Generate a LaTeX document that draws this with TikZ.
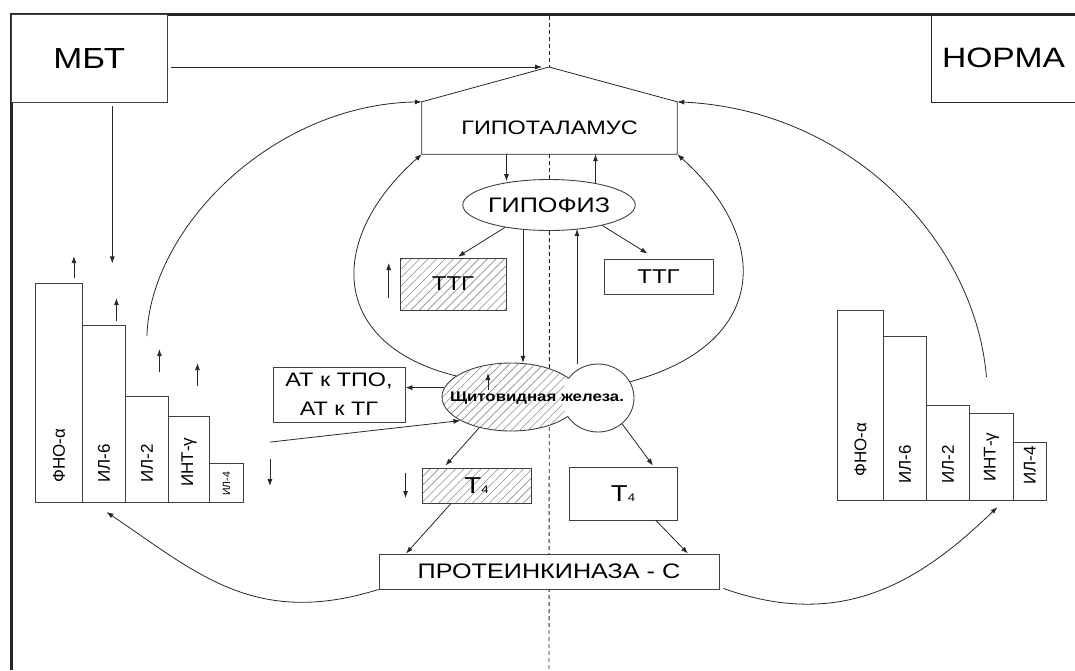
\documentclass[tikz,border=0pt]{standalone}
\usepackage{fontspec}
\setmainfont{Liberation Sans}
\newfontfamily\widesans{Liberation Sans}[FakeStretch=1.2]
\usepackage{tikz}
\usetikzlibrary{calc,arrows.meta,shapes.geometric,patterns.meta,backgrounds}
\tikzset{
  fsz/.style={font={\widesans\fontsize{#1}{#1}\selectfont}},
  box/.style={rectangle, draw=black!75, line width=0.9pt, inner sep=0pt},
  wbox/.style={box, fill=white},
  hatched/.style={preaction={fill=white},
                  pattern={Lines[angle=45, distance=6pt, line width=0.6pt]},
                  pattern color=black!45},
  lobe/.style={ellipse, inner sep=0pt},
  bar/.style={box, fill=white, anchor=south west},
  barlab/.style={rotate=90, anchor=west, inner sep=0pt},
  link/.style={line width=0.8pt, black!85},
  arr/.style={-{Latex[length=7pt, width=5pt]}, line width=0.8pt, black!85},
  axis/.style={dash pattern=on 4pt off 3pt, line width=0.9pt, black!85},
  frame/.style={line width=3pt, black!85},
}
\begin{document}
\begin{tikzpicture}[x=1pt, y=-1pt]
\useasboundingbox (0,0) rectangle (1075,670);
% frame
\draw[frame] (10,14.5) -- (1075,14.5);
\draw[frame] (11.5,13) -- (11.5,670);
% corner boxes
\node[wbox, minimum width=155.5pt, minimum height=87.5pt, fsz=29] (mbt) at (89.25,58.25) {МБТ};
\node[inner sep=0pt, minimum width=143pt, minimum height=87.5pt, fsz=28] (norma) at (1003.5,58.25) {НОРМА};
\draw[link] (norma.north west) -- (norma.south west) -- (norma.south east);
% hypothalamus
\coordinate (peak) at (549,67);
\node[inner sep=0pt, minimum width=255pt, minimum height=52pt, fsz=19.5] (hyp) at (549.5,128) {ГИПОТАЛАМУС};
\draw[link] (hyp.south west) -- (hyp.north west) -- (peak) -- (hyp.north east) -- (hyp.south east) -- cycle;
\draw[arr, shorten >=7pt] ($(mbt.east |- peak)+(4,0)$) -- (peak);
\draw[arr] ($(mbt.south)+(23,4)$) -- ++(0,157);
% pituitary
\node[lobe, draw=black!75, line width=0.9pt, fill=white, minimum width=169pt, minimum height=51pt, fsz=21] (hypo) at (549,205) {ГИПОФИЗ};
\draw[arr] ($(hyp.south)+(-43,0)$) -- ++(0,27);
\draw[arr] ($(hyp.south)+(46,29)$) -- ++(0,-29);
% TSH
\node[box, hatched, minimum width=106pt, minimum height=52pt, fsz=20] (ttgL) at (453,284) {ТТГ};
\node[wbox, minimum width=109pt, minimum height=35pt, fsz=20] (ttgR) at (658.5,276.5) {ТТГ};
\draw[arr] (hypo.207) -- ($(ttgL.north)+(5,-1)$);
\draw[arr] (hypo.339) -- ($(ttgR.north)+(-11,-5)$);
\draw[arr] ($(ttgL.west)+(-11,14)$) -- ++(0,-35);
% thyroid
\node[lobe, draw=black!75, line width=0.9pt, hatched, minimum width=138pt, minimum height=68pt] (thyL) at (511,397) {};
\node[lobe, fill=white, minimum width=72pt, minimum height=68pt] (thyR) at (598,398) {};
\begin{scope}[even odd rule]
  \clip (0,0) rectangle (1075,670) (thyL.center) ellipse [x radius=69, y radius=34];
  \draw[black!75, line width=0.9pt] (thyR.center) ellipse [x radius=36, y radius=34];
\end{scope}
\node[inner sep=0pt, font={\widesans\bfseries\fontsize{14}{14}\selectfont}] (thytxt) at (537,398) {Щитовидная железа.};
\draw[arr] ($(thyL.center)+(-23,-7)$) -- ++(0,-17);
\draw[arr] ($(hypo.south)+(-26,-1)$) -- ++(0,133);
\draw[arr] ($(hypo.south)+(28,133)$) -- ++(0,-135);
% antibodies
\node[wbox, minimum width=132pt, minimum height=55pt, align=center,
      font={\widesans\fontsize{19.5}{29}\selectfont}] (atbox) at (339,394.5) {АТ к ТПО,\\АТ к ТГ};
\draw[arr] (thyL.172) -- (thyL.172 -| atbox.east);
% T4
\node[box, hatched, minimum width=109pt, minimum height=35pt, fsz=23] (t4L) at (476.5,485.5) {Т{\fontsize{11}{11}\selectfont 4}};
\node[wbox, minimum width=108pt, minimum height=53pt, fsz=23] (t4R) at (623,493.5) {Т{\fontsize{11}{11}\selectfont 4}};
\draw[arr] (thyL.224) -- ($(t4L.north)+(-31,-2)$);
\draw[arr] (thyR.313) -- ($(t4R.north)+(30,-1)$);
\draw[arr] ($(t4L.west)+(-16,-12.5)$) -- ++(0,25);
% protein kinase
\node[wbox, minimum width=340pt, minimum height=35pt, fsz=21] (pkc) at (549,571.5) {ПРОТЕИНКИНАЗА - С};
\draw[arr] ($(t4L.south)+(-25.5,0)$) -- ($(pkc.north)+(-143,0)$);
\draw[arr] ($(t4R.south)+(33,0)$) -- ($(pkc.north)+(139,0)$);
% cytokine bars
\foreach \n/\x/\w/\h/\t/\f/\m in {lfno/35/47/219/ФНО-α/17/20, lil6/82/43/177/ИЛ-6/17/20,
    lil2/125/43/106/ИЛ-2/17/20, lint/168/41/86/ИНТ-γ/17/16, lil4/209/34/39/ИЛ-4/10.5/7}{
  \node[bar, minimum width=\w pt, minimum height=\h pt] (\n) at (\x,503) {};
  \node[barlab, font=\fontsize{\f}{\f}\selectfont] (\n-t) at ($(\n.south)+(0,-\m)$) {\t};
}
\foreach \n/\x/\w/\h/\t/\m in {rfno/837/46/190/ФНО-α/24, ril6/883/43/164/ИЛ-6/17,
    ril2/926/43/95/ИЛ-2/17, rint/969/44/87/ИНТ-γ/19, ril4/1013/33/58/ИЛ-4/16}{
  \node[bar, minimum width=\w pt, minimum height=\h pt] (\n) at (\x,501) {};
  \node[barlab, font=\fontsize{17}{17}\selectfont] (\n-t) at ($(\n.south)+(0,-\m)$) {\t};
}
% level marks
\draw[arr] ($(lfno.north)+(15,-5)$) -- ++(0,-22);
\draw[arr] ($(lil6.north)+(12.5,-4)$) -- ++(0,-23);
\draw[arr] ($(lil2.north)+(12.5,-24)$) -- ++(0,-23);
\draw[arr] ($(lint.north)+(8.5,-30)$) -- ++(0,-23);
\draw[arr] ($(lil4.north east)+(26,-4)$) -- ++(0,27);
\coordinate (cytk) at ($(lil4.north east)+(26,-21)$);
\draw[arr] (cytk) -- (thyL.205);
% feedback curves
\draw[arr] ($(lil6.north east)+(21,11)$) .. controls (150,230) and (270,105) .. (hyp.north west);
\draw[arr] ($(ril2.north)+(38.5,-28)$) .. controls (975,240) and (850,110) .. (hyp.north east);
\draw[arr] (thyL.159) .. controls (330,345) and (325,240) .. (hyp.south west);
\draw[arr] (thyR.27) .. controls (768,345) and (773,240) .. (hyp.south east);
\draw[arr] (pkc.south west) .. controls (255,628) and (197,573) .. ($(lil6.south)+(2.5,9)$);
\draw[arr] ($(pkc.south east)+(4,-1)$) .. controls (840,630) and (918,584) .. ($(rint.south)+(6,6)$);
% midline
\coordinate (axtop) at (549,16);
\coordinate (axbot) at (549,670);
\begin{pgfonlayer}{background}
  \draw[axis] (axtop) -- (peak);
  \draw[axis] (hyp.south) -- (axbot);
\end{pgfonlayer}
\end{tikzpicture}
\end{document}
